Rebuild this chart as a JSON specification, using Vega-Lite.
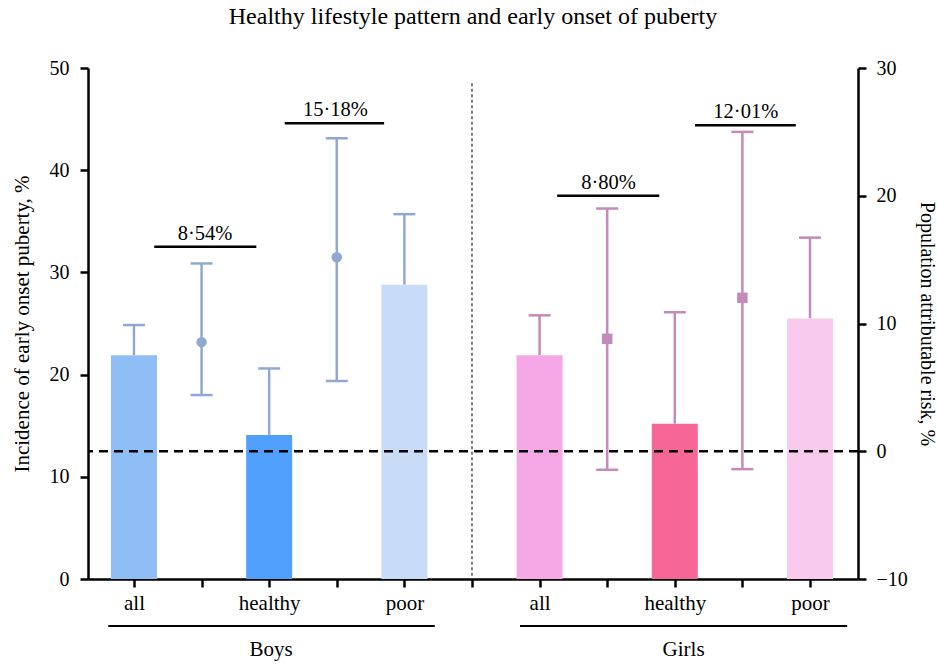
{
  "$schema": "https://vega.github.io/schema/vega-lite/v6.json",
  "width": 770,
  "height": 511,
  "autosize": {"type": "none"},
  "padding": {"left": 88, "top": 68, "right": 80, "bottom": 85},
  "title": {"text": "Healthy lifestyle pattern and early onset of puberty", "font": "Liberation Serif", "fontSize": 24, "fontWeight": "normal", "color": "black", "frame": "group", "anchor": "middle", "offset": 29},
  "config": {
    "view": {"stroke": null},
    "axis": {"grid": false, "domainColor": "black", "domainWidth": 2.5, "tickColor": "black", "tickWidth": 2.5, "tickSize": 8, "labelFont": "Liberation Serif", "labelFontSize": 20, "labelColor": "black", "titleFont": "Liberation Serif", "titleFontSize": 21, "titleFontWeight": "normal", "titleColor": "black"}
  },
  "datasets": {
    "bars": [
      {"pos": 0, "group": "Boys all", "sex": "Boys", "value": 21.9, "upper": 24.85},
      {"pos": 2, "group": "Boys healthy", "sex": "Boys", "value": 14.1, "upper": 20.6},
      {"pos": 4, "group": "Boys poor", "sex": "Boys", "value": 28.8, "upper": 35.7},
      {"pos": 6, "group": "Girls all", "sex": "Girls", "value": 21.9, "upper": 25.8},
      {"pos": 8, "group": "Girls healthy", "sex": "Girls", "value": 15.2, "upper": 26.1},
      {"pos": 10, "group": "Girls poor", "sex": "Girls", "value": 25.5, "upper": 33.4}
    ],
    "par": [
      {"pos": 1, "sex": "Boys", "par": 8.54, "lo": 4.4, "hi": 14.7},
      {"pos": 3, "sex": "Boys", "par": 15.18, "lo": 5.5, "hi": 24.5},
      {"pos": 7, "sex": "Girls", "par": 8.8, "lo": -1.45, "hi": 19.0},
      {"pos": 9, "sex": "Girls", "par": 12.01, "lo": -1.4, "hi": 25.0}
    ],
    "annot": [
      {"label": "8·54%", "start": 0.3, "end": 1.81, "mid": 1.05, "y": 32.5},
      {"label": "15·18%", "start": 2.23, "end": 3.7, "mid": 2.98, "y": 44.6},
      {"label": "8·80%", "start": 6.26, "end": 7.77, "mid": 7.02, "y": 37.5},
      {"label": "12·01%", "start": 8.3, "end": 9.79, "mid": 9.05, "y": 44.4}
    ],
    "groups": [
      {"label": "Boys", "start": -0.38, "end": 4.45, "mid": 2.03},
      {"label": "Girls", "start": 5.71, "end": 10.55, "mid": 8.13}
    ]
  },
  "layer": [
    {
      "layer": [
        {
          "data": {"name": "bars"},
          "mark": {"type": "rule", "strokeWidth": 2.5},
          "encoding": {
            "x": {"field": "pos", "type": "quantitative", "scale": {"domain": [-0.68, 10.71], "nice": false, "zero": false, "padding": 0},
              "axis": {"values": [0,1,2,3,4,5,6,7,8,9,10], "title": null, "labelPadding": 5, "labelFontSize": 21, "labelExpr": "datum.value==0||datum.value==6?'all':(datum.value==2||datum.value==8?'healthy':(datum.value==4||datum.value==10?'poor':''))"}},
            "y": {"field": "value", "type": "quantitative", "scale": {"domain": [0, 50], "nice": false, "zero": false, "padding": 0},
              "axis": {"values": [0,10,20,30,40,50], "title": "Incidence of early onset puberty, %", "titlePadding": 17, "labelPadding": 11}},
            "y2": {"field": "upper"},
            "color": {"field": "sex", "type": "nominal", "scale": {"domain": ["Boys", "Girls"], "range": ["#8fa9d1", "#c48bba"]}, "legend": null}
          }
        },
        {
          "data": {"name": "bars"},
          "mark": {"type": "tick", "orient": "horizontal", "size": 22, "thickness": 2.5, "opacity": 1},
          "encoding": {
            "x": {"field": "pos", "type": "quantitative"},
            "y": {"field": "upper", "type": "quantitative"},
            "color": {"field": "sex", "type": "nominal", "legend": null}
          }
        },
        {
          "data": {"name": "bars"},
          "mark": {"type": "bar", "size": 46},
          "encoding": {
            "x": {"field": "pos", "type": "quantitative"},
            "y": {"field": "value", "type": "quantitative"},
            "fill": {"field": "group", "type": "nominal", "scale": {"domain": ["Boys all", "Boys healthy", "Boys poor", "Girls all", "Girls healthy", "Girls poor"], "range": ["#8fbdf6", "#52a0fd", "#c8dcf7", "#f5a8e5", "#f66797", "#f8cbee"]}, "legend": null}
          }
        },
        {
          "data": {"values": [{}]},
          "mark": {"type": "rule", "strokeDash": [3, 2.5], "strokeWidth": 1.5, "color": "#555555"},
          "encoding": {
            "x": {"datum": 5, "type": "quantitative"},
            "y": {"datum": 48.5, "type": "quantitative"},
            "y2": {"datum": 0}
          }
        },
        {
          "data": {"values": [{}]},
          "mark": {"type": "rule", "strokeDash": [9, 6], "strokeWidth": 2.5, "color": "black"},
          "encoding": {
            "y": {"datum": 12.5, "type": "quantitative"}
          }
        },
        {
          "data": {"name": "annot"},
          "mark": {"type": "rule", "strokeWidth": 2.5, "color": "black"},
          "encoding": {
            "x": {"field": "start", "type": "quantitative"},
            "x2": {"field": "end"},
            "y": {"field": "y", "type": "quantitative"}
          }
        },
        {
          "data": {"name": "annot"},
          "mark": {"type": "text", "font": "Liberation Serif", "fontSize": 20.5, "color": "black", "baseline": "bottom", "dy": -3},
          "encoding": {
            "x": {"field": "mid", "type": "quantitative"},
            "y": {"field": "y", "type": "quantitative"},
            "text": {"field": "label"}
          }
        },
        {
          "data": {"name": "groups"},
          "mark": {"type": "rule", "strokeWidth": 2, "color": "black"},
          "encoding": {
            "x": {"field": "start", "type": "quantitative"},
            "x2": {"field": "end"},
            "y": {"datum": -4.6, "type": "quantitative"}
          }
        },
        {
          "data": {"name": "groups"},
          "mark": {"type": "text", "font": "Liberation Serif", "fontSize": 21, "color": "black", "baseline": "middle"},
          "encoding": {
            "x": {"field": "mid", "type": "quantitative"},
            "y": {"datum": -6.95, "type": "quantitative"},
            "text": {"field": "label"}
          }
        }
      ]
    },
    {
      "data": {"name": "par"},
      "layer": [
        {
          "mark": {"type": "rule", "strokeWidth": 2.5},
          "encoding": {
            "x": {"field": "pos", "type": "quantitative"},
            "y": {"field": "lo", "type": "quantitative", "scale": {"domain": [-10, 30], "nice": false, "zero": false, "padding": 0},
              "axis": {"orient": "right", "values": [-10, 0, 10, 20, 30], "title": "Population attributable risk, %", "titleFontSize": 20, "titlePadding": 9, "labelPadding": 10, "labelExpr": "replace(datum.label, '-', '\u2212')"}},
            "y2": {"field": "hi"},
            "color": {"field": "sex", "type": "nominal", "legend": null}
          }
        },
        {
          "mark": {"type": "tick", "orient": "horizontal", "size": 22, "thickness": 2.5, "opacity": 1},
          "encoding": {
            "x": {"field": "pos", "type": "quantitative"},
            "y": {"field": "lo", "type": "quantitative"},
            "color": {"field": "sex", "type": "nominal", "legend": null}
          }
        },
        {
          "mark": {"type": "tick", "orient": "horizontal", "size": 22, "thickness": 2.5, "opacity": 1},
          "encoding": {
            "x": {"field": "pos", "type": "quantitative"},
            "y": {"field": "hi", "type": "quantitative"},
            "color": {"field": "sex", "type": "nominal", "legend": null}
          }
        },
        {
          "mark": {"type": "point", "filled": true, "opacity": 1, "size": 110},
          "encoding": {
            "x": {"field": "pos", "type": "quantitative"},
            "y": {"field": "par", "type": "quantitative"},
            "color": {"field": "sex", "type": "nominal", "legend": null},
            "shape": {"field": "sex", "type": "nominal", "scale": {"domain": ["Boys", "Girls"], "range": ["circle", "square"]}, "legend": null}
          }
        }
      ]
    }
  ],
  "resolve": {"scale": {"y": "independent"}}
}
